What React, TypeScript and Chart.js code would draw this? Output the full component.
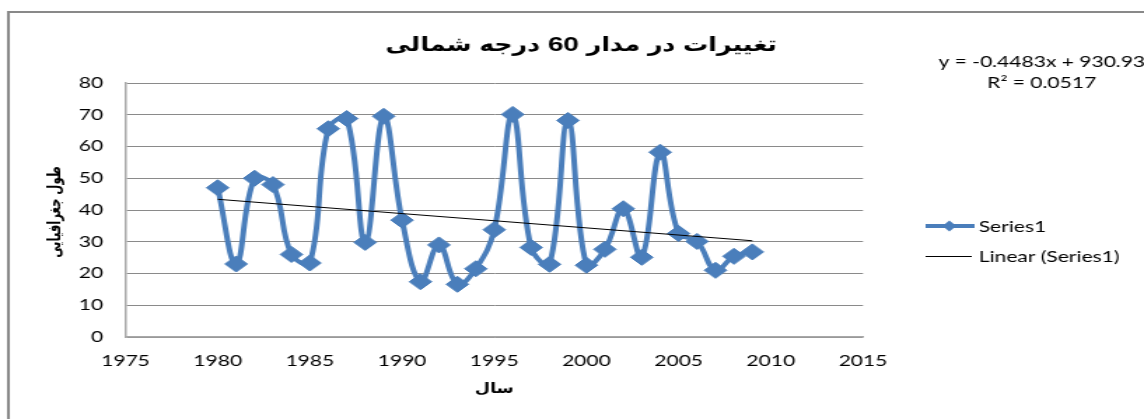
import React, { useEffect, useRef } from "react";
import { Chart, registerables } from "chart.js";

Chart.register(...registerables);

// ---- data ----
const years = [
  1980, 1981, 1982, 1983, 1984, 1985, 1986, 1987, 1988, 1989,
  1990, 1991, 1992, 1993, 1994, 1995, 1996, 1997, 1998, 1999,
  2000, 2001, 2002, 2003, 2004, 2005, 2006, 2007, 2008, 2009,
];
const values = [
  47, 23, 50, 48, 26, 23.3, 65.6, 68.8, 29.8, 69.5,
  36.8, 17.4, 29, 16.6, 21.5, 33.8, 70.1, 28.2, 22.9, 68.2,
  22.6, 27.6, 40.4, 25.1, 58.2, 32.6, 30.1, 21, 25.4, 26.8,
];
const xMin = 1975;
const xMax = 2015;
const xStep = 5;
const yMin = 0;
const yMax = 80;
const yStep = 10;

const chartTitle = "تغییرات در مدار 60 درجه شمالی";
const xAxisTitle = "سال";
const yAxisTitle = "طول جغرافیایی";
const seriesName = "Series1";
const trendName = "Linear (Series1)";
const equationLines = ["y = -0.4483x + 930.93", "R² = 0.0517"];

// ---- layout (internal canvas is stretched horizontally to 1144px) ----
const OUT_W = 1144;
const OUT_H = 419;
const IN_W = 817;
const SX = OUT_W / IN_W;
const BLUE = "#4A7EBB";
const TEXT_FONT = "Lato, 'Open Sans', sans-serif";
const TITLE_FONT = "'Liberation Sans', 'DejaVu Sans Condensed', 'DejaVu Sans', sans-serif";

function regression(xs: number[], ys: number[]) {
  const n = xs.length;
  const mx = xs.reduce((a, b) => a + b, 0) / n;
  const my = ys.reduce((a, b) => a + b, 0) / n;
  let sxy = 0;
  let sxx = 0;
  for (let i = 0; i < n; i++) {
    sxy += (xs[i] - mx) * (ys[i] - my);
    sxx += (xs[i] - mx) * (xs[i] - mx);
  }
  const slope = sxy / sxx;
  return { slope, intercept: my - slope * mx };
}

const decorPlugin = {
  id: "decor",
  beforeDraw(chart: any) {
    const { ctx, width, height } = chart;
    ctx.save();
    ctx.fillStyle = "#ffffff";
    ctx.fillRect(0, 0, width, height);
    ctx.restore();
  },
  afterDraw(chart: any) {
    const { ctx, chartArea, width, height } = chart;
    ctx.save();
    // outer chart border
    ctx.strokeStyle = "#898989";
    ctx.lineWidth = 2;
    ctx.strokeRect(6, 12, width + 20, height + 20);

    ctx.fillStyle = "#000";
    ctx.textAlign = "center";
    ctx.textBaseline = "middle";

    // title
    ctx.font = `bold 20px ${TITLE_FONT}`;
    ctx.fillText(chartTitle, 415, 45);

    // x axis title
    ctx.font = `bold 14px ${TITLE_FONT}`;
    ctx.fillText(xAxisTitle, (chartArea.left + chartArea.right) / 2, 389);

    // y axis title
    ctx.save();
    ctx.translate(39, 212);
    ctx.rotate(-Math.PI / 2);
    ctx.font = `bold 13px ${TITLE_FONT}`;
    ctx.fillText(yAxisTitle, 0, 0);
    ctx.restore();

    // trendline equation
    ctx.font = `15px ${TEXT_FONT}`;
    ctx.fillText(equationLines[0], 744, 62);
    ctx.fillText(equationLines[1], 744, 83);

    // legend
    ctx.textAlign = "left";
    ctx.strokeStyle = BLUE;
    ctx.lineWidth = 4;
    ctx.beginPath();
    ctx.moveTo(661, 226);
    ctx.lineTo(696, 226);
    ctx.stroke();
    ctx.fillStyle = BLUE;
    ctx.beginPath();
    ctx.moveTo(678 - 5, 226);
    ctx.lineTo(678, 226 - 5.5);
    ctx.lineTo(678 + 5, 226);
    ctx.lineTo(678, 226 + 5.5);
    ctx.closePath();
    ctx.fill();
    ctx.fillStyle = "#000";
    ctx.fillText(seriesName, 699, 227);

    ctx.strokeStyle = "#000";
    ctx.lineWidth = 1;
    ctx.beginPath();
    ctx.moveTo(661, 256.5);
    ctx.lineTo(694, 256.5);
    ctx.stroke();
    ctx.fillText(trendName, 699, 257);
    ctx.restore();
  },
};

export default function App() {
  const canvasRef = useRef<HTMLCanvasElement | null>(null);

  useEffect(() => {
    const canvas = canvasRef.current;
    if (!canvas) return;
    const { slope, intercept } = regression(years, values);
    const firstX = years[0];
    const lastX = years[years.length - 1];
    const trendData = [
      { x: firstX, y: slope * firstX + intercept },
      { x: lastX, y: slope * lastX + intercept },
    ];

    const chart = new Chart(canvas, {
      type: "line",
      data: {
        datasets: [
          {
            label: seriesName,
            data: years.map((x, i) => ({ x, y: values[i] })),
            borderColor: BLUE,
            backgroundColor: BLUE,
            borderWidth: 4,
            pointStyle: "rectRot",
            pointRadius: 8,
            pointBorderWidth: 1,
            pointBorderColor: BLUE,
            pointBackgroundColor: BLUE,
            tension: 0.4,
            fill: false,
            order: 1,
          },
          {
            label: trendName,
            data: trendData,
            borderColor: "#000",
            borderWidth: 1,
            pointRadius: 0,
            tension: 0,
            fill: false,
            order: 0,
          },
        ],
      },
      options: {
        responsive: false,
        animation: false,
        devicePixelRatio: 1,
        layout: { padding: { top: 83, right: IN_W - 863 / SX, bottom: 0, left: 0 } },
        plugins: {
          legend: { display: false },
          title: { display: false },
          tooltip: { enabled: false },
        },
        scales: {
          x: {
            type: "linear",
            min: xMin,
            max: xMax,
            ticks: {
              stepSize: xStep,
              callback: (v: any) => String(v),
              font: { family: TEXT_FONT, size: 15 },
              color: "#000",
              padding: 15,
              maxRotation: 0,
            },
            grid: { display: false, drawTicks: false },
            border: { display: true, color: "#a8a8a8", width: 1.5 },
            afterFit: (s: any) => {
              s.height = 82;
            },
          },
          y: {
            min: yMin,
            max: yMax,
            ticks: {
              stepSize: yStep,
              font: { family: TEXT_FONT, size: 15 },
              color: "#000",
              padding: 16,
            },
            grid: { color: "#8a8a8a", drawTicks: false },
            border: { display: true, color: "#a8a8a8", width: 1.5 },
            afterFit: (s: any) => {
              s.width = 125.5 / SX;
            },
          },
        },
      } as any,
      plugins: [decorPlugin],
    });
    return () => chart.destroy();
  }, []);

  return (
    <div style={{ position: "fixed", left: 0, top: 0, width: OUT_W, height: OUT_H, overflow: "hidden", background: "#fff" }}>
      <canvas
        ref={canvasRef}
        width={IN_W}
        height={OUT_H}
        style={{ width: `${OUT_W}px`, height: `${OUT_H}px`, display: "block" }}
      />
    </div>
  );
}
